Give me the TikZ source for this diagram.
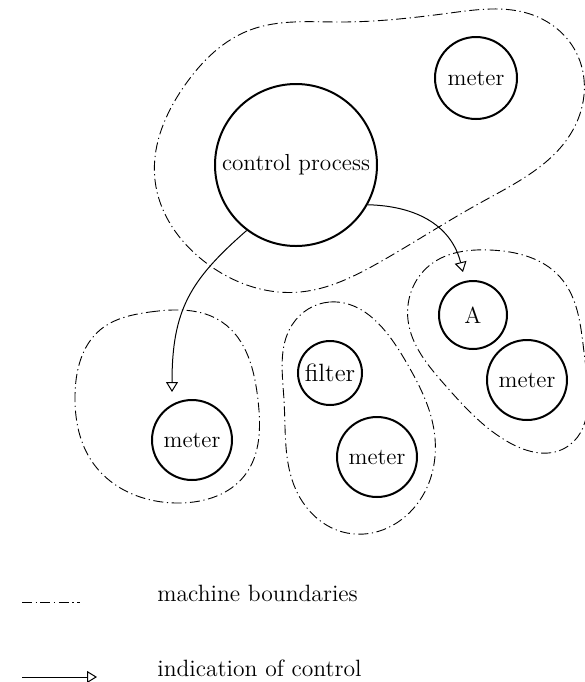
\documentclass[tikz,border=0pt]{standalone}
\usetikzlibrary{arrows.meta,hobby}
\begin{document}
\begin{tikzpicture}[x=0.5pt,y=-0.5pt,
  proc/.style={draw,circle,line width=1pt,inner sep=0pt,font=\fontsize{11.6}{13}\selectfont},
  boundary/.style={line width=0.45pt,dash pattern=on 5pt off 1.8pt on 0.6pt off 1.8pt},
  ctrl/.style={line width=0.5pt,-{Triangle[open,width=6pt,length=5pt]}},
  legend/.style={anchor=base west,inner sep=0pt,font=\fontsize{11.8}{13}\selectfont}]
\useasboundingbox (0,0) rectangle (585,682);

% machine boundaries
\draw[boundary,closed hobby] plot coordinates
  {(250,30) (340,22) (450,13) (530,14) (576,52) (574,128) (480,203)
   (380,262) (300,292) (205,262) (155,180) (185,85)};
\draw[boundary,closed hobby] plot coordinates
  {(150,312) (222,322) (258,400) (245,475) (180,503) (93,463) (75,395) (100,330)};
\draw[boundary,closed hobby] plot coordinates
  {(330,302) (405,360) (434,430) (420,500) (347,533) (296,490) (284,400) (292,325)};
\draw[boundary,closed hobby] plot coordinates
  {(490,250) (560,277) (585,360) (565,448) (510,443) (445,385) (408,320) (430,265)};

% processes
\node[proc,minimum size=81pt] (cp) at (296,165) {control process};
\node[proc,minimum size=41pt] (m0) at (476,78) {meter};
\node[proc,minimum size=40pt] (m1) at (192,440) {meter};
\node[proc,minimum size=32pt,font=\fontsize{12.5}{14}\selectfont] (flt) at (330,373) {filter};
\node[proc,minimum size=40pt] (m2) at (377,457) {meter};
\node[proc,minimum size=34pt] (a) at (473,315) {A};
\node[proc,minimum size=40pt] (m3) at (527,380) {meter};

% control arrows
\coordinate (t1) at (172,392);
\coordinate (t2) at (463,272);
\draw[ctrl] (cp.233) .. controls (190,280) and (172,310) .. (t1);
\draw[ctrl] (cp.331) .. controls (420,206) and (452,228) .. (t2);

% legend
\coordinate (la) at (22,602);
\coordinate (lb) at (80,602);
\coordinate (lc) at (22,677);
\coordinate (ld) at (97,677);
\draw[boundary] (la) -- (lb);
\draw[ctrl] (lc) -- (ld);
\node[legend] (lt1) at (157,601) {machine boundaries};
\node[legend] (lt2) at (157,676) {indication of control};
\end{tikzpicture}
\end{document}
